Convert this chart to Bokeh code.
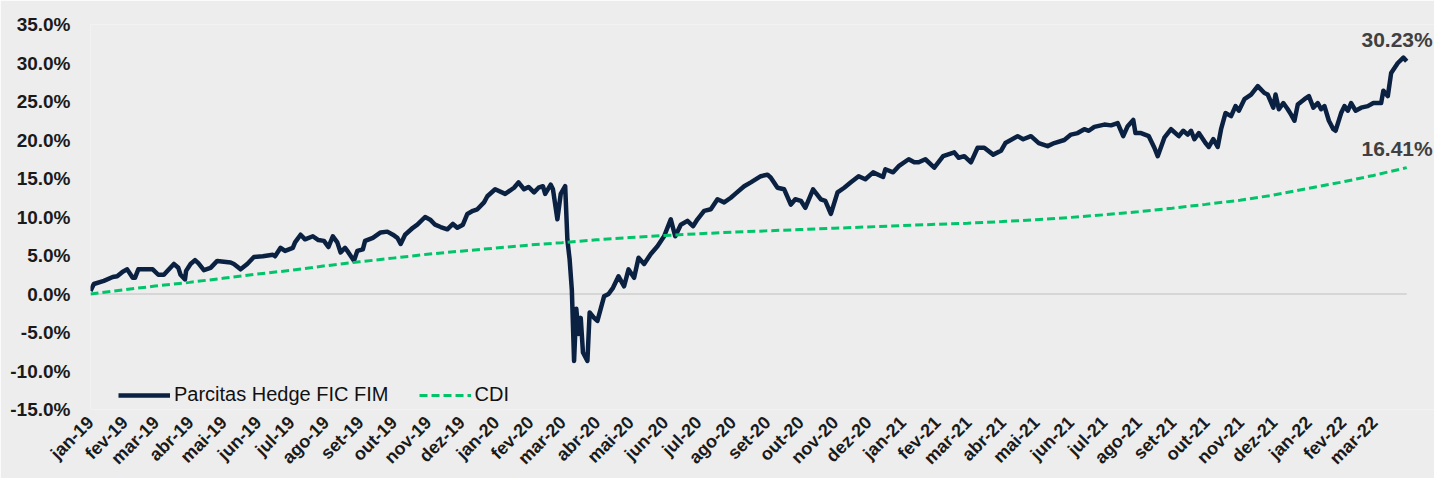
import math
import pandas as pd
from bokeh.plotting import figure
from bokeh.models import (FixedTicker, PrintfTickFormatter, Legend, LegendItem,
                          Label, Range1d)
from bokeh.embed import file_html
from bokeh.resources import INLINE

# ---------------- data ----------------
fund_dates = [
    "2019-01-01", "2019-01-04", "2019-01-13", "2019-01-21", "2019-01-25", "2019-01-30", "2019-02-03", "2019-02-08",
    "2019-02-10", "2019-02-13", "2019-02-26", "2019-03-03", "2019-03-08", "2019-03-17", "2019-03-21", "2019-03-23",
    "2019-03-27", "2019-03-28", "2019-04-01", "2019-04-05", "2019-04-08", "2019-04-13", "2019-04-19", "2019-04-25",
    "2019-05-01", "2019-05-07", "2019-05-10", "2019-05-16", "2019-05-22", "2019-05-28", "2019-06-05", "2019-06-14",
    "2019-06-16", "2019-06-21", "2019-06-25", "2019-07-02", "2019-07-04", "2019-07-09", "2019-07-13", "2019-07-20",
    "2019-07-25", "2019-07-30", "2019-08-03", "2019-08-07", "2019-08-11", "2019-08-14", "2019-08-18", "2019-08-21",
    "2019-08-26", "2019-08-29", "2019-09-03", "2019-09-05", "2019-09-12", "2019-09-19", "2019-09-25", "2019-09-30",
    "2019-10-04", "2019-10-07", "2019-10-11", "2019-10-18", "2019-10-22", "2019-10-29", "2019-11-03", "2019-11-07",
    "2019-11-12", "2019-11-18", "2019-11-23", "2019-11-27", "2019-12-02", "2019-12-06", "2019-12-11", "2019-12-15",
    "2019-12-21", "2019-12-24", "2019-12-31",
    "2020-01-09", "2020-01-17", "2020-01-21", "2020-01-26", "2020-01-30", "2020-02-04", "2020-02-08", "2020-02-12",
    "2020-02-14", "2020-02-19", "2020-02-21", "2020-02-25", "2020-02-28", "2020-03-03", "2020-03-05", "2020-03-07",
    "2020-03-09", "2020-03-11", "2020-03-13", "2020-03-15", "2020-03-17", "2020-03-19", "2020-03-23", "2020-03-25",
    "2020-03-29", "2020-04-01", "2020-04-07", "2020-04-11", "2020-04-15", "2020-04-20", "2020-04-25", "2020-04-29",
    "2020-05-04", "2020-05-08", "2020-05-13", "2020-05-19", "2020-05-25", "2020-05-31", "2020-06-06", "2020-06-10",
    "2020-06-15", "2020-06-21", "2020-06-26", "2020-06-30", "2020-07-06", "2020-07-12", "2020-07-18", "2020-07-24",
    "2020-07-30", "2020-08-03", "2020-08-11", "2020-08-17", "2020-08-26", "2020-09-01", "2020-09-04", "2020-09-10",
    "2020-09-16", "2020-09-22", "2020-09-26", "2020-10-01", "2020-10-05", "2020-10-12", "2020-10-19", "2020-10-23",
    "2020-10-28", "2020-11-03", "2020-11-09", "2020-11-15", "2020-11-22", "2020-11-28", "2020-12-05", "2020-12-14",
    "2020-12-16", "2020-12-23", "2020-12-28",
    "2021-01-06", "2021-01-11", "2021-01-15", "2021-01-21", "2021-01-29", "2021-02-06", "2021-02-16", "2021-02-20",
    "2021-02-25", "2021-03-03", "2021-03-09", "2021-03-15", "2021-03-23", "2021-03-30", "2021-04-03", "2021-04-14",
    "2021-04-19", "2021-04-26", "2021-05-03", "2021-05-11", "2021-05-17", "2021-05-26", "2021-06-01", "2021-06-07",
    "2021-06-13", "2021-06-17", "2021-06-22", "2021-07-01", "2021-07-07", "2021-07-13", "2021-07-18", "2021-07-22",
    "2021-07-27", "2021-07-29", "2021-08-03", "2021-08-10", "2021-08-15", "2021-08-18", "2021-08-24", "2021-08-30",
    "2021-09-06", "2021-09-10", "2021-09-14", "2021-09-17", "2021-09-20", "2021-09-24", "2021-09-30", "2021-10-03",
    "2021-10-07", "2021-10-11", "2021-10-14", "2021-10-18", "2021-10-23", "2021-10-27", "2021-10-30", "2021-11-04",
    "2021-11-10", "2021-11-16", "2021-11-22", "2021-11-25", "2021-11-30", "2021-12-02", "2021-12-05", "2021-12-09",
    "2021-12-13", "2021-12-16", "2021-12-19", "2021-12-22", "2021-12-28",
    "2022-01-01", "2022-01-05", "2022-01-09", "2022-01-12", "2022-01-15", "2022-01-19", "2022-01-23", "2022-01-25",
    "2022-01-30", "2022-02-02", "2022-02-05", "2022-02-08", "2022-02-12", "2022-02-17", "2022-02-23", "2022-02-28",
    "2022-03-07", "2022-03-09", "2022-03-13", "2022-03-16", "2022-03-22", "2022-03-27", "2022-03-30",
]
fund_values = [
    0.4, 1.3, 1.7, 2.2, 2.3, 2.9, 3.2, 2.1,
    2.1, 3.2, 3.2, 2.5, 2.5, 3.9, 3.4, 2.5,
    1.9, 3.0, 3.9, 4.4, 4.0, 3.1, 3.4, 4.3,
    4.2, 4.1, 3.9, 3.2, 3.9, 4.8, 4.9, 5.1,
    4.9, 6.0, 5.6, 6.0, 6.7, 7.7, 7.1, 7.5,
    7.0, 6.9, 6.1, 7.5, 6.7, 5.4, 6.0, 5.4,
    4.3, 5.6, 5.8, 6.9, 7.3, 8.0, 8.1, 7.7,
    7.3, 6.5, 7.7, 8.6, 9.0, 10.0, 9.6, 9.0,
    8.7, 8.4, 9.1, 8.6, 9.0, 10.4, 10.8, 11.0,
    11.9, 12.7, 13.6,
    13.0, 13.8, 14.5, 13.6, 13.9, 13.2, 13.8, 14.0,
    13.0, 14.2, 13.6, 9.7, 13.0, 14.0, 7.0, 4.5,
    0.5, -8.7, -1.9, -5.2, -3.1, -7.6, -8.7, -2.4,
    -3.1, -3.5, -0.3, 0.0, 0.8, 2.3, 1.0, 3.2,
    2.1, 4.7, 3.9, 5.2, 6.2, 7.5, 9.7, 7.5,
    9.0, 9.5, 8.8, 9.7, 10.8, 11.0, 12.3, 11.9,
    12.5, 13.0, 14.0, 14.5, 15.3, 15.5, 15.1, 13.8,
    13.6, 11.6, 12.3, 12.1, 11.2, 13.6, 12.3, 12.1,
    10.4, 13.2, 13.8, 14.5, 15.3, 14.9, 15.8, 15.2,
    16.2, 15.8, 16.6,
    17.5, 17.1, 17.1, 17.5, 16.4, 17.9, 18.4, 17.7,
    17.9, 17.1, 19.0, 19.0, 18.1, 18.6, 19.6, 20.5,
    20.1, 20.5, 19.6, 19.2, 19.6, 20.0, 20.7, 20.9,
    21.4, 21.2, 21.7, 22.0, 21.9, 22.2, 20.5, 21.8,
    22.6, 20.9, 20.9, 20.5, 19.0, 17.9, 20.3, 21.4,
    20.5, 21.2, 20.7, 21.2, 20.1, 20.9, 19.6, 19.1,
    20.1, 19.1, 21.4, 23.5, 23.1, 24.4, 23.8, 25.3,
    25.9, 27.0, 26.1, 25.9, 24.2, 25.9, 24.0, 24.8,
    24.0, 23.3, 22.5, 24.6, 25.3,
    25.7, 24.2, 24.8, 24.0, 24.4, 22.5, 21.4, 21.2,
    23.5, 24.4, 23.8, 24.8, 23.8, 24.2, 24.4, 24.8,
    24.8, 26.4, 25.7, 28.7, 30.0, 30.7, 30.23,
]

cdi_dates = [
    "2019-01-01", "2019-01-31", "2019-02-28", "2019-03-31", "2019-04-30", "2019-05-31", "2019-06-30",
    "2019-07-31", "2019-08-31", "2019-09-30", "2019-10-31", "2019-11-30", "2019-12-31",
    "2020-01-31", "2020-02-29", "2020-03-31", "2020-04-30", "2020-05-31", "2020-06-30",
    "2020-07-31", "2020-08-31", "2020-09-30", "2020-10-31", "2020-11-30", "2020-12-31",
    "2021-01-31", "2021-02-28", "2021-03-31", "2021-04-30", "2021-05-31", "2021-06-30",
    "2021-07-31", "2021-08-31", "2021-09-30", "2021-10-31", "2021-11-30", "2021-12-31",
    "2022-01-31", "2022-02-28", "2022-03-30",
]
cdi_values = [
    0.0, 0.54, 1.03, 1.51, 2.04, 2.59, 3.07,
    3.66, 4.18, 4.66, 5.16, 5.56, 5.96,
    6.36, 6.67, 7.03, 7.33, 7.59, 7.82,
    8.03, 8.20, 8.37, 8.54, 8.71, 8.89,
    9.05, 9.19, 9.41, 9.64, 9.94, 10.28,
    10.67, 11.15, 11.64, 12.18, 12.84, 13.71,
    14.54, 15.40, 16.41,
]

month_labels = [
    "jan-19", "fev-19", "mar-19", "abr-19", "mai-19", "jun-19", "jul-19", "ago-19", "set-19", "out-19", "nov-19", "dez-19",
    "jan-20", "fev-20", "mar-20", "abr-20", "mai-20", "jun-20", "jul-20", "ago-20", "set-20", "out-20", "nov-20", "dez-20",
    "jan-21", "fev-21", "mar-21", "abr-21", "mai-21", "jun-21", "jul-21", "ago-21", "set-21", "out-21", "nov-21", "dez-21",
    "jan-22", "fev-22", "mar-22",
]
y_ticks = [-15, -10, -5, 0, 5, 10, 15, 20, 25, 30, 35]

series_names = ["Parcitas Hedge FIC FIM", "CDI"]

# ---------------- build ----------------
fd = pd.to_datetime(fund_dates)
cd = pd.to_datetime(cdi_dates)
tick_dates = pd.date_range("2019-01-01", periods=len(month_labels), freq="MS")
tick_ms = [float(d.timestamp() * 1000) for d in tick_dates]

BG = "#EDEDED"
FONT = "Liberation Sans"

x_start = fd[0].to_pydatetime()
x_end = (fd[-1] + pd.Timedelta(days=25)).to_pydatetime()   # room on the right for the end labels

p = figure(frame_width=1344, frame_height=385, x_axis_type="datetime",
           output_backend="svg", toolbar_location=None,
           x_range=Range1d(x_start, x_end),
           y_range=Range1d(-15, 35),
           min_border_left=90, min_border_right=0, min_border_top=24, min_border_bottom=0)

p.background_fill_color = BG
p.border_fill_color = BG
p.outline_line_color = None
p.xgrid.visible = False
p.ygrid.visible = False

# horizontal axis line at 0 (category axis crossing)
p.line([fd[0], fd[-1]], [0, 0], line_color="#D6D6D6", line_width=2)

r_fund = p.line(fd, fund_values, line_color="#0B2142", line_width=4.5, line_join="round")
r_cdi = p.line(cd, cdi_values, line_color="#00C46A", line_width=3, line_dash="8 4")

# y axis
p.yaxis.ticker = FixedTicker(ticks=y_ticks)
p.yaxis.formatter = PrintfTickFormatter(format="%.1f%%")
p.yaxis.axis_line_color = None
p.yaxis.major_tick_line_color = None
p.yaxis.major_tick_out = 0
p.yaxis.major_tick_in = 0
p.yaxis.minor_tick_line_color = None
p.yaxis.major_label_text_font = FONT
p.yaxis.major_label_text_font_style = "bold"
p.yaxis.major_label_text_font_size = "19px"
p.yaxis.major_label_text_color = "#1A1A1A"
p.yaxis.major_label_standoff = 20

# x axis
p.xaxis.ticker = FixedTicker(ticks=tick_ms)
p.xaxis.major_label_overrides = {t: lab for t, lab in zip(tick_ms, month_labels)}
p.xaxis.major_label_orientation = math.pi / 4
p.xaxis.axis_line_color = None
p.xaxis.major_tick_line_color = None
p.xaxis.major_tick_out = 0
p.xaxis.major_tick_in = 0
p.xaxis.minor_tick_line_color = None
p.xaxis.major_label_text_font = FONT
p.xaxis.major_label_text_font_style = "bold"
p.xaxis.major_label_text_font_size = "18px"
p.xaxis.major_label_text_color = "#1A1A1A"
p.xaxis.major_label_standoff = 10

legend = Legend(items=[LegendItem(label=series_names[0], renderers=[r_fund]),
                       LegendItem(label=series_names[1], renderers=[r_cdi])],
                orientation="horizontal", location=(28, 3),
                background_fill_alpha=0, border_line_color=None,
                label_text_font=FONT, label_text_font_size="20px", label_text_color="#111111",
                glyph_width=52, glyph_height=20, label_standoff=4, spacing=30,
                padding=0, margin=0)
p.add_layout(legend)

for dates, vals, yo in ((fd, fund_values, 10), (cd, cdi_values, 8)):
    p.add_layout(Label(x=dates[-1].to_pydatetime(), y=vals[-1], text=f"{vals[-1]:.2f}%",
                       text_align="right", text_baseline="bottom", x_offset=26, y_offset=yo,
                       text_font=FONT, text_font_style="bold", text_font_size="21px",
                       text_color="#404040"))

open("out.html", "w").write(file_html(p, INLINE))
